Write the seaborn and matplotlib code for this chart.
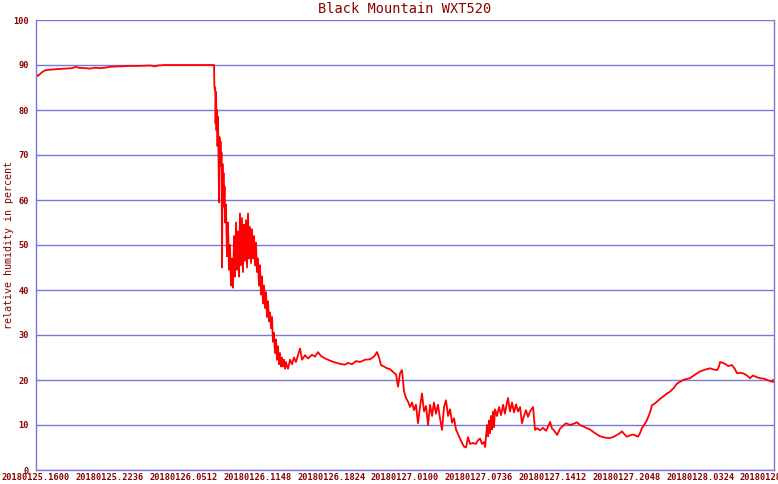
#!/usr/bin/env python3
"""Black Mountain WXT520 relative humidity trace."""

import numpy as np
import pandas as pd
import matplotlib
matplotlib.use("Agg")
import matplotlib.pyplot as plt
import seaborn as sns

# hours since 2018-01-25 16:00
hours = [
    0.00, 0.09, 0.18, 0.36, 0.54, 0.80, 1.07, 1.43, 1.97, 2.59, 3.22, 3.58, 3.76, 4.38,
    4.83, 5.28, 5.72, 6.17, 6.62, 7.51, 8.41, 9.30, 10.20, 10.64, 10.91, 11.54, 15.92,
    15.95, 15.99, 16.03, 16.06, 16.10, 16.14, 16.19, 16.23, 16.28, 16.32, 16.37, 16.41,
    16.46, 16.50, 16.55, 16.59, 16.64, 16.68, 16.73, 16.77, 16.82, 16.86, 16.90,
    16.99, 17.08, 17.17, 17.26, 17.35, 17.44, 17.53, 17.62, 17.71, 17.80, 17.89, 17.98,
    18.06, 18.15, 18.24, 18.33, 18.42, 18.51, 18.60, 18.69, 18.78, 18.87, 18.96, 19.05,
    19.14, 19.23, 19.32, 19.41, 19.50, 19.59, 19.67, 19.76, 19.85, 19.94, 20.03, 20.12,
    20.21, 20.30, 20.39, 20.48, 20.57, 20.66, 20.75, 20.84, 20.93, 21.02, 21.11, 21.19,
    21.28, 21.37, 21.46, 21.55, 21.64, 21.73, 21.82, 21.91, 22.00, 22.09, 22.18, 22.27,
    22.36, 22.45, 22.54, 22.72, 22.90, 23.07, 23.25, 23.43, 23.61, 23.79, 24.06, 24.33,
    24.68, 24.95, 25.22, 25.49, 25.85, 26.29, 26.74, 27.19, 27.63, 27.90, 28.26, 28.62,
    28.98, 29.42, 29.87, 30.23, 30.50, 30.68, 30.86, 31.12, 31.39, 31.66, 31.93, 32.20,
    32.38, 32.55, 32.73, 32.91, 33.09, 33.27, 33.45, 33.63, 33.80, 33.98, 34.16, 34.34,
    34.52, 34.70, 34.88, 35.06, 35.24, 35.42, 35.59, 35.77, 35.95, 36.13, 36.31, 36.49,
    36.67, 36.85, 37.03, 37.21, 37.39, 37.56, 37.74, 37.92, 38.10, 38.28, 38.46, 38.64,
    38.81, 39.08, 39.35, 39.53, 39.71, 39.89, 40.07, 40.16, 40.34, 40.43, 40.52, 40.60,
    40.69, 40.78, 40.87, 40.96, 41.05, 41.23, 41.41, 41.59, 41.77, 41.94, 42.12, 42.21,
    42.39, 42.57, 42.75, 42.93, 43.11, 43.29, 43.46, 43.64, 43.82, 44.00, 44.18, 44.45,
    44.63, 44.81, 45.08, 45.34, 45.61, 45.79, 45.97, 46.15, 46.33, 46.60, 46.87, 47.13,
    47.40, 47.76, 48.11, 48.38, 48.65, 49.01, 49.28, 49.54, 49.99, 50.44, 50.88, 51.33,
    51.69, 51.96, 52.22, 52.40, 52.67, 52.85, 53.12, 53.39, 53.66, 53.84, 54.02, 54.19,
    54.46, 54.64, 54.91, 55.09, 55.36, 55.54, 55.80, 56.07, 56.43, 56.70, 57.06, 57.32,
    57.59, 57.86, 58.13, 58.49, 58.94, 59.38, 59.83, 60.28, 60.64, 60.91, 61.08, 61.17,
    61.44, 61.62, 61.89, 62.25, 62.51, 62.69, 62.96, 63.23, 63.58, 63.85, 64.12, 64.48,
    64.75, 65.11, 65.37, 65.64, 65.82, 65.91, 66.00,
]

humidity = [
    87.3, 87.8, 87.6, 88.0, 88.4, 88.8, 88.9, 89.0, 89.1, 89.2, 89.3, 89.6, 89.4, 89.3,
    89.2, 89.4, 89.3, 89.4, 89.6, 89.7, 89.8, 89.8, 89.9, 89.7, 89.9, 90.0, 90.0,
    85.5, 84.5, 85.0, 77.0, 84.0, 75.5, 80.0, 72.0, 78.5, 69.5, 59.5, 74.0,
    68.5, 73.0, 67.5, 70.5, 45.0, 68.0, 61.0, 66.0, 58.5, 63.0, 55.0,
    59.0, 47.5, 55.0, 44.5, 50.0, 41.0, 47.0, 40.5, 52.0, 43.0, 55.0, 44.5,
    53.0, 43.0, 57.0, 45.5, 56.0, 44.0, 54.5, 46.5, 55.5, 45.0, 57.0, 47.0,
    54.0, 46.0, 53.5, 47.0, 52.0, 45.5, 50.5, 44.0, 47.0, 41.0, 45.5, 39.0,
    43.0, 37.0, 41.0, 36.0, 39.5, 34.0, 37.5, 33.0, 35.0, 31.5, 34.0, 28.5,
    30.5, 26.0, 29.0, 24.5, 27.5, 23.5, 26.0, 23.0, 25.0, 23.0, 24.5, 22.5,
    24.0, 23.0, 22.5, 24.5, 23.5, 25.0, 24.0, 25.5, 27.0, 24.5, 25.5, 24.8,
    25.6, 25.2, 26.2, 25.3, 24.8, 24.3, 23.9, 23.6, 23.4, 23.8, 23.5, 24.2,
    24.0, 24.5, 24.6, 25.2, 26.2, 25.0, 23.3, 23.0, 22.6, 22.4, 21.8, 21.2,
    18.5, 21.5, 22.2, 17.5, 16.0, 15.2, 14.0, 15.0, 13.3, 14.5, 10.4, 14.0,
    17.0, 13.0, 14.2, 10.0, 14.5, 12.0, 15.0, 12.5, 14.5, 11.5, 8.9, 14.0,
    15.5, 12.0, 13.5, 10.5, 11.5, 9.0, 8.0, 7.0, 6.0, 5.2, 5.0, 7.3,
    5.8, 6.0, 5.8, 6.6, 7.0, 5.8, 6.2, 5.1, 10.0, 7.5, 11.0, 8.2,
    12.0, 9.0, 13.0, 9.5, 13.5, 12.0, 14.0, 12.2, 14.5, 12.5, 15.0, 16.0,
    13.0, 15.0, 12.8, 14.6, 13.0, 14.0, 10.4, 12.0, 13.3, 11.8, 13.0, 14.0,
    8.9, 9.3, 8.8, 9.4, 8.7, 9.6, 10.7, 9.2, 8.8, 7.8, 9.2, 9.8,
    10.4, 10.0, 10.3, 10.6, 10.0, 9.6, 9.3, 9.0, 8.2, 7.5, 7.2, 7.1,
    7.4, 7.8, 8.2, 8.6, 7.8, 7.4, 7.7, 7.9, 7.6, 7.4, 8.2, 9.3,
    10.3, 11.1, 12.8, 14.4, 14.8, 15.2, 15.8, 16.3, 17.0, 17.4, 18.3, 19.2,
    19.6, 20.0, 20.2, 20.4, 21.2, 21.9, 22.3, 22.6, 22.3, 22.2, 23.0, 24.0,
    23.8, 23.6, 23.1, 23.3, 22.4, 21.5, 21.6, 21.5, 21.0, 20.4, 21.0, 20.6,
    20.4, 20.3, 20.0, 19.8, 19.6, 20.0, 19.5,
]

tick_hours = [0.0, 6.6, 13.2, 19.8, 26.4, 33.0, 39.6, 46.2, 52.8, 59.4, 66.0]
tick_labels = [
    "20180125.1600", "20180125.2236", "20180126.0512", "20180126.1148",
    "20180126.1824", "20180127.0100", "20180127.0736", "20180127.1412",
    "20180127.2048", "20180128.0324", "20180128.1000",
]
y_ticks = [0, 10, 20, 30, 40, 50, 60, 70, 80, 90, 100]

GRID = "#7878d8"
TEXT = "#8b0000"

sns.set_style("white")
plt.rcParams["font.family"] = ["DejaVu Sans Mono"]

df = pd.DataFrame({"hours": hours, "rh": humidity})

fig = plt.figure(figsize=(7.78, 4.84), dpi=100)
ax = fig.add_axes([36 / 778, 14 / 484, 738 / 778, 450 / 484])

sns.lineplot(data=df, x="hours", y="rh", estimator=None, sort=False,
             color="#ff0000", linewidth=1.3, ax=ax)

ax.set_xlim(0, 66)
ax.set_ylim(0, 100)
ax.set_xticks(tick_hours)
ax.set_xticklabels(tick_labels)
ax.set_yticks(y_ticks)
ax.set_yticklabels([str(v) for v in y_ticks])

ax.yaxis.grid(True, color=GRID, linewidth=1.0)
ax.xaxis.grid(False)
ax.set_axisbelow(True)
for side in ["left", "bottom", "right"]:
    ax.spines[side].set_visible(True)
    ax.spines[side].set_color(GRID)
    ax.spines[side].set_linewidth(1.0)
ax.spines["top"].set_visible(False)

ax.tick_params(axis="x", direction="in", length=4, width=1, color=GRID,
               pad=2, labelsize=6.2, labelcolor=TEXT)
ax.tick_params(axis="y", length=0, pad=5, labelsize=6.2, labelcolor=TEXT)
for lbl in ax.get_xticklabels() + ax.get_yticklabels():
    lbl.set_fontweight("bold")

ax.set_xlabel("")
ax.set_ylabel("relative humidity in percent", color=TEXT, fontsize=7.2)
# label anchor is its right edge; centre it at x ~ 8 px like the reference
ax.yaxis.set_label_coords(-0.030, 0.5)
ax.set_title("Black Mountain WXT520", color=TEXT, fontsize=9.8, pad=5)

plt.savefig("out.png", dpi=100)
plt.close()
